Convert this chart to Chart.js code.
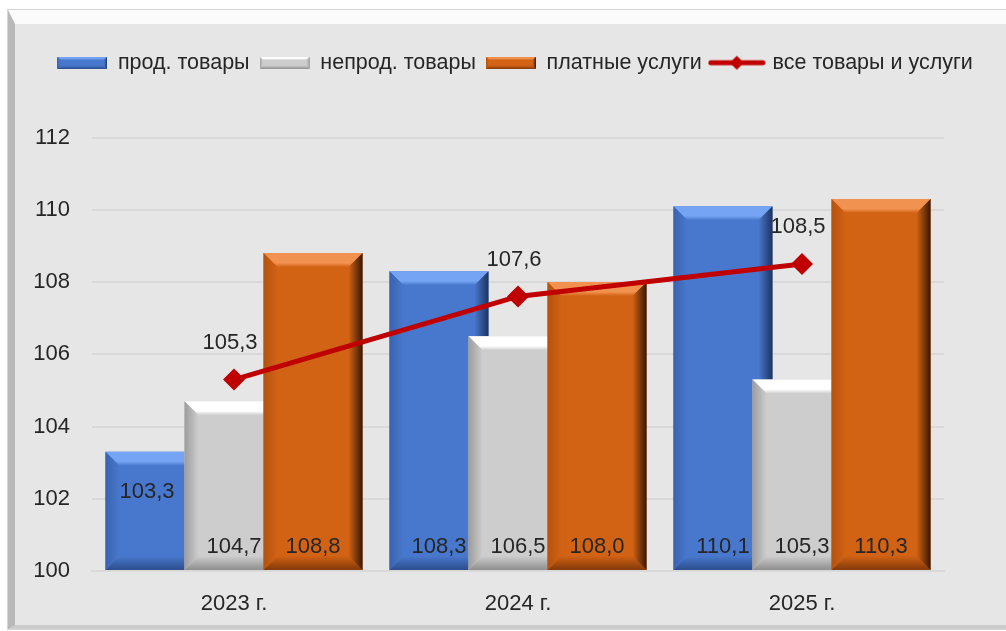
<!DOCTYPE html>
<html>
<head>
<meta charset="utf-8">
<script src="https://cdn.jsdelivr.net/npm/chart.js@4/dist/chart.umd.min.js"></script>
<style>
  body { margin: 0; background: #fff; overflow: hidden; }
  #frame {
    position: absolute; left: 8px; top: 10px; width: 1010px; height: 601px;
    background: #e6e6e6;
    border-top: 14px solid #fbfbfb;
    border-left: 7px solid #b8b8b8;
    border-bottom: 4px solid #cbcbcb;
    box-shadow: 0 0 0 1px #d6d6d6;
  }
  #c { position: absolute; left: 0; top: 0; }
</style>
</head>
<body>
<div id="frame"></div>
<canvas id="c" width="1006" height="631"></canvas>
<script>
// данные
var categories = ['2023 г.', '2024 г.', '2025 г.'];
var prodGoods = [103.3, 108.3, 110.1];
var nonProdGoods = [104.7, 106.5, 105.3];
var paidServices = [108.8, 108.0, 110.3];
var allGoods = [105.3, 107.6, 108.5];
var yTicks = [100, 102, 104, 106, 108, 110, 112];

var seriesNames = ['прод. товары', 'непрод. товары', 'платные услуги', 'все товары и услуги'];

var bevelColors = [
    { body: '#4878cd', top: '#76a4f4', bottom: '#2c4d8c', left: '#3a63b0', right: '#1c335e' },
    { body: '#cdcdcd', top: '#ffffff', bottom: '#8e8e8e', left: '#9c9c9c', right: '#a0a0a0' },
    { body: '#d26214', top: '#f29250', bottom: '#82390a', left: '#b3520f', right: '#361703' }
];
var lineColor = '#c00000';
var textColor = '#262626';

Chart.defaults.font.family = '"Liberation Sans", Arial, sans-serif';
Chart.defaults.font.size = 22;
Chart.defaults.color = textColor;

function poly(ctx, pts, fill){
    ctx.beginPath();
    ctx.moveTo(pts[0][0], pts[0][1]);
    for (var i = 1; i < pts.length; i++) ctx.lineTo(pts[i][0], pts[i][1]);
    ctx.closePath();
    ctx.fillStyle = fill;
    ctx.fill();
}

// рамка-скос как у Excel
function bevelRect(ctx, x0, y0, x1, y1, col, b){
    b = Math.min(b, (x1 - x0) / 2, (y1 - y0) / 2);
    var g = ctx.createLinearGradient(0, y0, 0, y0 + b);
    g.addColorStop(0, col.top); g.addColorStop(0.7, col.top); g.addColorStop(1, col.body);
    poly(ctx, [[x0,y0],[x1,y0],[x1-b,y0+b],[x0+b,y0+b]], g);
    g = ctx.createLinearGradient(0, y1 - b, 0, y1);
    g.addColorStop(0, col.body); g.addColorStop(1, col.bottom);
    poly(ctx, [[x0,y1],[x1,y1],[x1-b,y1-b],[x0+b,y1-b]], g);
    g = ctx.createLinearGradient(x0, 0, x0 + b, 0);
    g.addColorStop(0, col.left); g.addColorStop(1, col.body);
    poly(ctx, [[x0,y0],[x0+b,y0+b],[x0+b,y1-b],[x0,y1]], g);
    g = ctx.createLinearGradient(x1 - b, 0, x1, 0);
    g.addColorStop(0, col.body); g.addColorStop(1, col.right);
    poly(ctx, [[x1,y0],[x1-b,y0+b],[x1-b,y1-b],[x1,y1]], g);
}

function barIcon(col){
    var c = document.createElement('canvas');
    c.width = 50; c.height = 12;
    var g = c.getContext('2d');
    g.fillStyle = col.body;
    g.fillRect(0, 0, 50, 12);
    bevelRect(g, 0, 0, 50, 12, col, 3);
    return c;
}

function lineIcon(){
    var c = document.createElement('canvas');
    c.width = 58; c.height = 16;
    var g = c.getContext('2d');
    g.strokeStyle = lineColor; g.lineWidth = 5; g.lineCap = 'round';
    g.beginPath(); g.moveTo(3, 8); g.lineTo(55, 8); g.stroke();
    poly(g, [[29,1],[36,8],[29,15],[22,8]], lineColor);
    return c;
}

var legendIcons = [barIcon(bevelColors[0]), barIcon(bevelColors[1]), barIcon(bevelColors[2]), lineIcon()];

function fmt(v){ return v.toFixed(1).replace('.', ','); }

// подпись первого синего столбца сдвинута вручную, как в оригинале
var labelNudge = { '0-0': [-8, -55] };

var bevelPlugin = {
    id: 'bevelBars',
    afterLayout: function(chart){
        // легенда выше, с зазором до графика
        var lg = chart.legend;
        var h = lg.bottom - lg.top;
        lg.top = 42;
        lg.bottom = 42 + h;
    },
    beforeDatasetsDraw: function(chart){
        var ctx = chart.ctx;
        // порядок: синий, серый, оранжевый, линия сверху
        chart.data.datasets.forEach(function(ds, i){
            if (!chart.isDatasetVisible(i)) return;
            var meta = chart.getDatasetMeta(i);
            ctx.save();
            meta.controller.draw();
            if (meta.type === 'bar') {
                meta.data.forEach(function(bar){
                    var p = bar.getProps(['x', 'y', 'base', 'width'], true);
                    bevelRect(ctx, p.x - p.width / 2, p.y, p.x + p.width / 2, p.base, bevelColors[i], 14);
                });
            }
            ctx.restore();
        });

        ctx.save();
        ctx.font = '22px "Liberation Sans", Arial, sans-serif';
        ctx.fillStyle = textColor;
        ctx.textAlign = 'center';
        ctx.textBaseline = 'middle';
        chart.data.datasets.forEach(function(ds, i){
            var meta = chart.getDatasetMeta(i);
            meta.data.forEach(function(el, j){
                var p = el.getProps(['x', 'y', 'base'], true);
                var x, y;
                if (meta.type === 'bar') {
                    x = p.x; y = p.base - 23;
                } else {
                    x = p.x - 4; y = p.y - 37;
                }
                var n = labelNudge[i + '-' + j];
                if (n) { x += n[0]; y += n[1]; }
                ctx.fillText(fmt(ds.data[j]), x, y);
            });
        });
        ctx.restore();
        return false;
    }
};

var barOpts = { barPercentage: 1.253, categoryPercentage: 0.835, borderWidth: 0, base: yTicks[0] };

new Chart(document.getElementById('c'), {
    type: 'bar',
    data: {
        labels: categories,
        datasets: [
            Object.assign({ label: seriesNames[0], data: prodGoods, backgroundColor: bevelColors[0].body }, barOpts),
            Object.assign({ label: seriesNames[1], data: nonProdGoods, backgroundColor: bevelColors[1].body }, barOpts),
            Object.assign({ label: seriesNames[2], data: paidServices, backgroundColor: bevelColors[2].body }, barOpts),
            {
                type: 'line',
                label: seriesNames[3],
                data: allGoods,
                borderColor: lineColor,
                borderWidth: 5,
                pointStyle: 'rectRot',
                pointRadius: 11,
                pointBackgroundColor: lineColor,
                pointBorderWidth: 0
            }
        ]
    },
    options: {
        responsive: false,
        animation: false,
        layout: { padding: { left: 24, right: 0, top: 96, bottom: 0 } },
        plugins: {
            tooltip: { enabled: false },
            legend: {
                position: 'top',
                labels: {
                    usePointStyle: true,
                    pointStyleWidth: 50,
                    padding: 10,
                    color: textColor,
                    font: { size: 21.5 },
                    generateLabels: function(chart){
                        var items = Chart.defaults.plugins.legend.labels.generateLabels(chart);
                        items.forEach(function(it, i){ it.pointStyle = legendIcons[i]; });
                        return items;
                    }
                }
            }
        },
        scales: {
            x: {
                grid: { display: false, drawTicks: false },
                border: { display: true, color: '#d9d9d9', width: 2 },
                ticks: { padding: 20, color: textColor },
                afterFit: function(scale){
                    scale.height = 60;
                    scale.paddingRight = 62;
                }
            },
            y: {
                min: yTicks[0],
                max: yTicks[yTicks.length - 1],
                ticks: { stepSize: yTicks[1] - yTicks[0], padding: 22, color: textColor },
                grid: { color: '#d9d9d9', lineWidth: 2, drawTicks: false },
                border: { display: false },
                afterFit: function(scale){
                    scale.width = 68;
                }
            }
        }
    },
    plugins: [bevelPlugin]
});
</script>
</body>
</html>
